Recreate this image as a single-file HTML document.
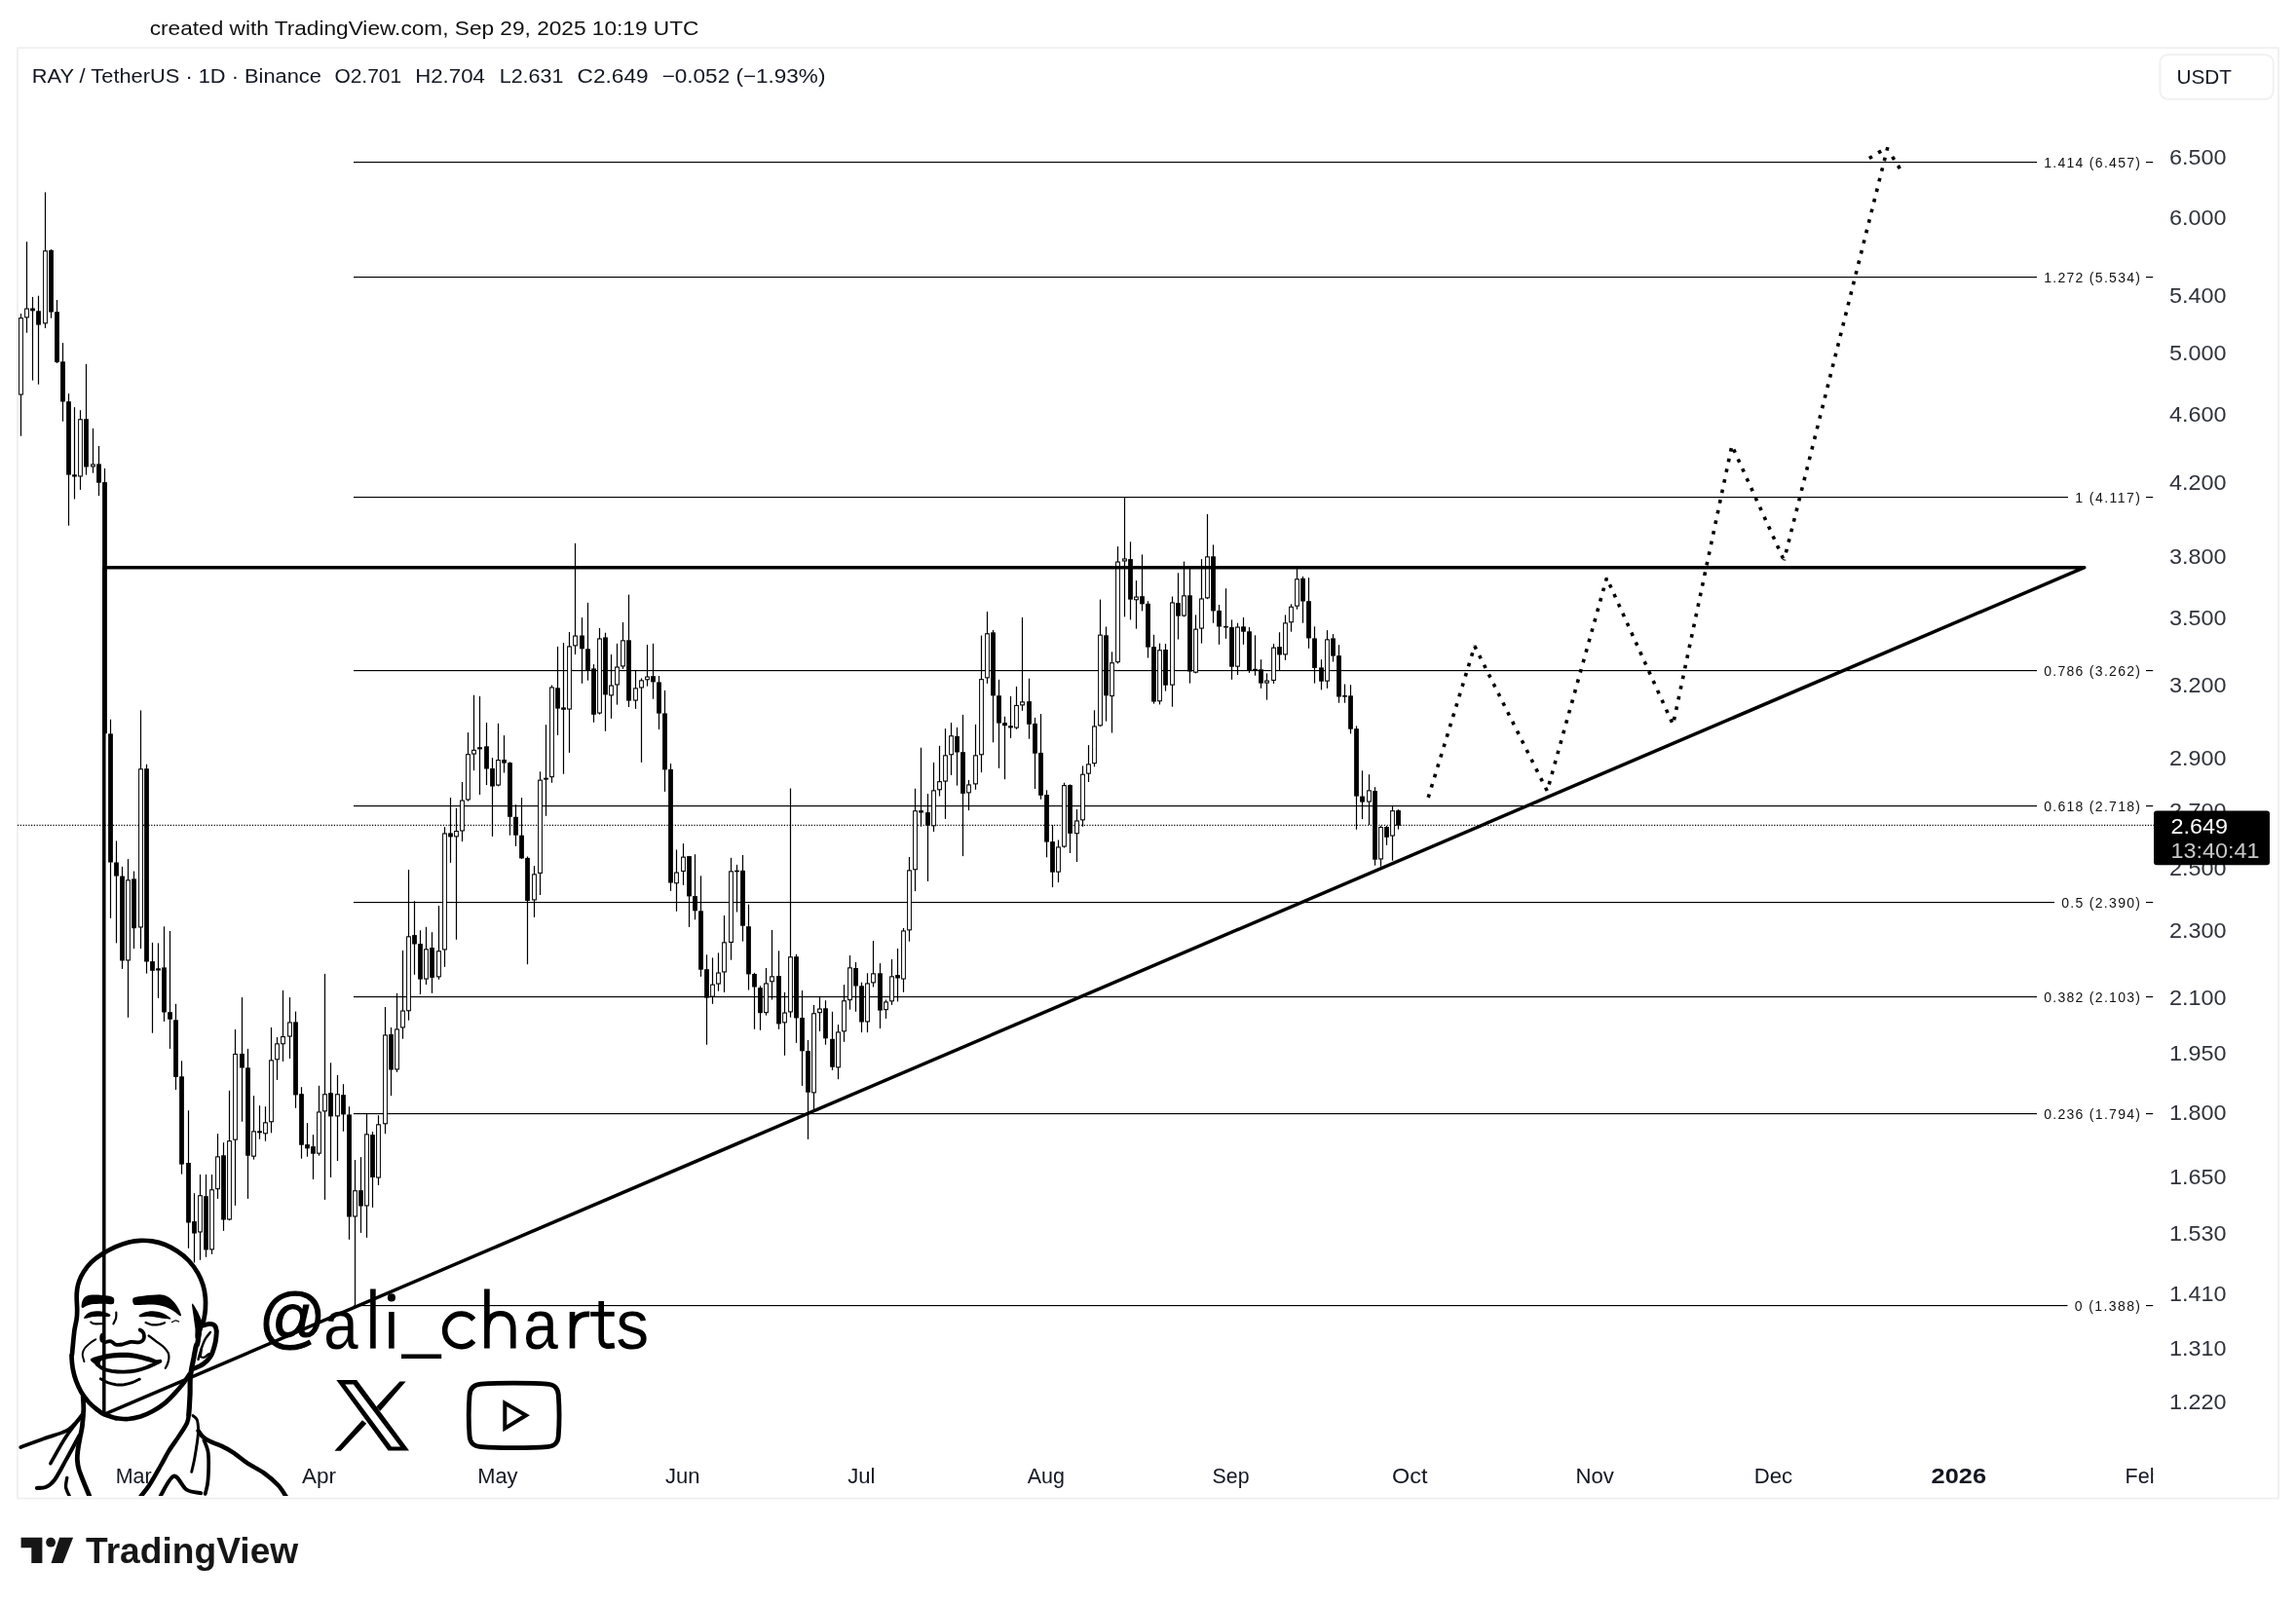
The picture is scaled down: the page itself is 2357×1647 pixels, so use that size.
<!DOCTYPE html>
<html><head><meta charset="utf-8"><title>RAY / TetherUS chart</title>
<style>html,body{margin:0;padding:0;background:#fff;}body{width:2357px;height:1647px;overflow:hidden;}svg{display:block;font-family:"Liberation Sans", sans-serif;will-change:transform;}</style>
</head><body>
<svg width="2357" height="1647" viewBox="0 0 2357 1647">
<rect width="2357" height="1647" fill="#fff"/>
<rect x="18" y="49.2" width="2321" height="1489.4" fill="none" stroke="#efefef" stroke-width="1.8"/>
<rect x="2217.4" y="56.2" width="116.3" height="45.6" rx="8" fill="#fff" stroke="#f1f1f1" stroke-width="2"/>
<text x="2234.5" y="85.7" font-size="21" fill="#131722" textLength="56.5" lengthAdjust="spacingAndGlyphs">USDT</text>
<text x="153.7" y="35.5" font-size="20.7" fill="#111" textLength="563.7" lengthAdjust="spacingAndGlyphs">created with TradingView.com, Sep 29, 2025 10:19 UTC</text>
<text x="32.7" y="84.5" font-size="20" fill="#131722" textLength="297.2" lengthAdjust="spacingAndGlyphs">RAY / TetherUS · 1D · Binance</text>
<text x="343.4" y="84.5" font-size="20" fill="#131722" textLength="68.8" lengthAdjust="spacingAndGlyphs">O2.701</text>
<text x="426.2" y="84.5" font-size="20" fill="#131722" textLength="71.7" lengthAdjust="spacingAndGlyphs">H2.704</text>
<text x="512.7" y="84.5" font-size="20" fill="#131722" textLength="65.8" lengthAdjust="spacingAndGlyphs">L2.631</text>
<text x="592.6" y="84.5" font-size="20" fill="#131722" textLength="73.0" lengthAdjust="spacingAndGlyphs">C2.649</text>
<text x="679.7" y="84.5" font-size="20" fill="#131722" textLength="167.7" lengthAdjust="spacingAndGlyphs">−0.052 (−1.93%)</text>
<rect x="363" y="166" width="1728.0" height="1.15" fill="#000"/>
<rect x="2203" y="166" width="7.2" height="1.15" fill="#000"/>
<text x="2098.2" y="171.7" font-size="14" fill="#111" textLength="98.8" lengthAdjust="spacing">1.414 (6.457)</text>
<rect x="363" y="284" width="1728.0" height="1.15" fill="#000"/>
<rect x="2203" y="284" width="7.2" height="1.15" fill="#000"/>
<text x="2098.2" y="290.3" font-size="14" fill="#111" textLength="98.8" lengthAdjust="spacing">1.272 (5.534)</text>
<rect x="363" y="510" width="1760.0" height="1.15" fill="#000"/>
<rect x="2203" y="510" width="7.2" height="1.15" fill="#000"/>
<text x="2130.2" y="515.7" font-size="14" fill="#111" textLength="66.8" lengthAdjust="spacing">1 (4.117)</text>
<rect x="363" y="688" width="1728.0" height="1.15" fill="#000"/>
<rect x="2203" y="688" width="7.2" height="1.15" fill="#000"/>
<text x="2098.2" y="693.7" font-size="14" fill="#111" textLength="98.8" lengthAdjust="spacing">0.786 (3.262)</text>
<rect x="363" y="827" width="1728.0" height="1.15" fill="#000"/>
<rect x="2203" y="827" width="7.2" height="1.15" fill="#000"/>
<text x="2098.2" y="832.6" font-size="14" fill="#111" textLength="98.8" lengthAdjust="spacing">0.618 (2.718)</text>
<rect x="363" y="926" width="1746.0" height="1.15" fill="#000"/>
<rect x="2203" y="926" width="7.2" height="1.15" fill="#000"/>
<text x="2116.2" y="931.7" font-size="14" fill="#111" textLength="80.8" lengthAdjust="spacing">0.5 (2.390)</text>
<rect x="363" y="1023" width="1728.0" height="1.15" fill="#000"/>
<rect x="2203" y="1023" width="7.2" height="1.15" fill="#000"/>
<text x="2098.2" y="1028.6" font-size="14" fill="#111" textLength="98.8" lengthAdjust="spacing">0.382 (2.103)</text>
<rect x="363" y="1143" width="1728.0" height="1.15" fill="#000"/>
<rect x="2203" y="1143" width="7.2" height="1.15" fill="#000"/>
<text x="2098.2" y="1148.6" font-size="14" fill="#111" textLength="98.8" lengthAdjust="spacing">0.236 (1.794)</text>
<rect x="363" y="1340" width="1759.5" height="1.15" fill="#000"/>
<rect x="2203" y="1340" width="7.2" height="1.15" fill="#000"/>
<text x="2129.7" y="1345.6" font-size="14" fill="#111" textLength="67.3" lengthAdjust="spacing">0 (1.388)</text>
<line x1="18" y1="847.3" x2="2211" y2="847.3" stroke="#000" stroke-width="1.2" stroke-dasharray="1.2 1.6"/>
<g fill="#000"><rect x="20.90" y="322.1" width="1.2" height="125.6"/><rect x="19.10" y="326.1" width="4.8" height="79.5"/><rect x="20.10" y="327.2" width="2.8" height="77.3" fill="#fff"/><rect x="26.90" y="248.2" width="1.2" height="93.5"/><rect x="25.10" y="316.5" width="4.8" height="9.9"/><rect x="26.10" y="317.6" width="2.8" height="7.7" fill="#fff"/><rect x="32.90" y="304.9" width="1.2" height="85.7"/><rect x="31.10" y="316.5" width="4.8" height="2.8"/><rect x="38.90" y="303.7" width="1.2" height="91.0"/><rect x="37.10" y="319.3" width="4.8" height="14.3"/><rect x="45.90" y="197.4" width="1.2" height="139.6"/><rect x="44.10" y="257.2" width="4.8" height="75.2"/><rect x="45.10" y="258.3" width="2.8" height="73.0" fill="#fff"/><rect x="51.90" y="256.0" width="1.2" height="70.7"/><rect x="50.10" y="256.9" width="4.8" height="63.6"/><rect x="57.90" y="308.0" width="1.2" height="64.9"/><rect x="56.10" y="320.2" width="4.8" height="51.7"/><rect x="63.90" y="352.0" width="1.2" height="80.7"/><rect x="62.10" y="371.3" width="4.8" height="41.2"/><rect x="69.90" y="404.1" width="1.2" height="135.6"/><rect x="68.10" y="412.2" width="4.8" height="75.4"/><rect x="75.90" y="418.1" width="1.2" height="94.4"/><rect x="74.10" y="487.3" width="4.8" height="2.2"/><rect x="81.90" y="421.2" width="1.2" height="81.7"/><rect x="80.10" y="430.2" width="4.8" height="59.3"/><rect x="81.10" y="431.3" width="2.8" height="57.1" fill="#fff"/><rect x="87.90" y="373.8" width="1.2" height="113.8"/><rect x="86.10" y="430.2" width="4.8" height="49.3"/><rect x="94.90" y="439.9" width="1.2" height="45.8"/><rect x="93.10" y="476.4" width="4.8" height="3.1"/><rect x="94.10" y="477.5" width="2.8" height="0.9" fill="#fff"/><rect x="100.90" y="458.0" width="1.2" height="51.1"/><rect x="99.10" y="476.4" width="4.8" height="19.3"/><rect x="106.90" y="481.0" width="1.2" height="280.0"/><rect x="105.10" y="495.1" width="4.8" height="258.1"/><rect x="112.90" y="738.7" width="1.2" height="204.2"/><rect x="111.10" y="753.4" width="4.8" height="132.1"/><rect x="118.90" y="863.4" width="1.2" height="105.0"/><rect x="117.10" y="885.5" width="4.8" height="14.1"/><rect x="124.90" y="889.9" width="1.2" height="105.0"/><rect x="123.10" y="899.6" width="4.8" height="86.9"/><rect x="130.90" y="882.1" width="1.2" height="162.7"/><rect x="129.10" y="903.3" width="4.8" height="83.2"/><rect x="130.10" y="904.4" width="2.8" height="81.0" fill="#fff"/><rect x="136.90" y="894.6" width="1.2" height="79.5"/><rect x="135.10" y="902.4" width="4.8" height="50.8"/><rect x="143.90" y="729.4" width="1.2" height="244.7"/><rect x="142.10" y="789.2" width="4.8" height="163.3"/><rect x="143.10" y="790.3" width="2.8" height="161.1" fill="#fff"/><rect x="149.90" y="784.8" width="1.2" height="214.8"/><rect x="148.10" y="789.2" width="4.8" height="198.3"/><rect x="155.90" y="967.8" width="1.2" height="92.9"/><rect x="154.10" y="987.1" width="4.8" height="9.7"/><rect x="161.90" y="968.4" width="1.2" height="56.5"/><rect x="160.10" y="994.3" width="4.8" height="2.2"/><rect x="167.90" y="951.3" width="1.2" height="97.6"/><rect x="166.10" y="993.4" width="4.8" height="46.1"/><rect x="173.90" y="956.0" width="1.2" height="120.9"/><rect x="172.10" y="1039.2" width="4.8" height="7.5"/><rect x="179.90" y="1030.8" width="1.2" height="88.2"/><rect x="178.10" y="1047.3" width="4.8" height="58.6"/><rect x="185.90" y="1089.3" width="1.2" height="116.3"/><rect x="184.10" y="1105.3" width="4.8" height="90.3"/><rect x="192.90" y="1140.2" width="1.2" height="141.6"/><rect x="191.10" y="1194.0" width="4.8" height="61.5"/><rect x="198.90" y="1225.2" width="1.2" height="71.2"/><rect x="197.10" y="1254.1" width="4.8" height="12.4"/><rect x="204.90" y="1206.0" width="1.2" height="87.8"/><rect x="203.10" y="1227.2" width="4.8" height="38.3"/><rect x="204.10" y="1228.3" width="2.8" height="36.1" fill="#fff"/><rect x="210.90" y="1206.0" width="1.2" height="84.8"/><rect x="209.10" y="1228.2" width="4.8" height="55.2"/><rect x="216.90" y="1206.0" width="1.2" height="81.8"/><rect x="215.10" y="1221.2" width="4.8" height="62.2"/><rect x="216.10" y="1222.3" width="2.8" height="60.0" fill="#fff"/><rect x="222.90" y="1164.1" width="1.2" height="66.8"/><rect x="221.10" y="1187.3" width="4.8" height="33.9"/><rect x="222.10" y="1188.4" width="2.8" height="31.7" fill="#fff"/><rect x="228.90" y="1173.1" width="1.2" height="90.8"/><rect x="227.10" y="1186.3" width="4.8" height="66.2"/><rect x="234.90" y="1119.8" width="1.2" height="133.3"/><rect x="233.10" y="1171.1" width="4.8" height="81.4"/><rect x="234.10" y="1172.2" width="2.8" height="79.2" fill="#fff"/><rect x="240.90" y="1057.0" width="1.2" height="180.9"/><rect x="239.10" y="1081.9" width="4.8" height="88.8"/><rect x="240.10" y="1083.0" width="2.8" height="86.6" fill="#fff"/><rect x="247.90" y="1024.1" width="1.2" height="127.6"/><rect x="246.10" y="1081.9" width="4.8" height="14.6"/><rect x="253.90" y="1076.9" width="1.2" height="154.0"/><rect x="252.10" y="1096.3" width="4.8" height="90.4"/><rect x="259.90" y="1125.2" width="1.2" height="65.4"/><rect x="258.10" y="1161.3" width="4.8" height="26.4"/><rect x="259.10" y="1162.4" width="2.8" height="24.2" fill="#fff"/><rect x="265.90" y="1135.2" width="1.2" height="34.5"/><rect x="264.10" y="1161.3" width="4.8" height="2.0"/><rect x="271.90" y="1136.2" width="1.2" height="35.5"/><rect x="270.10" y="1152.3" width="4.8" height="12.0"/><rect x="271.10" y="1153.4" width="2.8" height="9.8" fill="#fff"/><rect x="277.90" y="1055.0" width="1.2" height="108.3"/><rect x="276.10" y="1088.3" width="4.8" height="64.0"/><rect x="277.10" y="1089.4" width="2.8" height="61.8" fill="#fff"/><rect x="283.90" y="1065.0" width="1.2" height="43.9"/><rect x="282.10" y="1071.3" width="4.8" height="17.0"/><rect x="283.10" y="1072.4" width="2.8" height="14.8" fill="#fff"/><rect x="289.90" y="1016.9" width="1.2" height="73.0"/><rect x="288.10" y="1064.0" width="4.8" height="8.3"/><rect x="289.10" y="1065.1" width="2.8" height="6.1" fill="#fff"/><rect x="296.90" y="1024.1" width="1.2" height="62.8"/><rect x="295.10" y="1049.4" width="4.8" height="15.2"/><rect x="296.10" y="1050.5" width="2.8" height="13.0" fill="#fff"/><rect x="302.90" y="1038.6" width="1.2" height="99.2"/><rect x="301.10" y="1049.4" width="4.8" height="75.0"/><rect x="308.90" y="1116.2" width="1.2" height="73.5"/><rect x="307.10" y="1123.2" width="4.8" height="52.5"/><rect x="314.90" y="1153.1" width="1.2" height="34.6"/><rect x="313.10" y="1175.1" width="4.8" height="4.2"/><rect x="320.90" y="1165.1" width="1.2" height="45.9"/><rect x="319.10" y="1177.1" width="4.8" height="7.6"/><rect x="326.90" y="1114.8" width="1.2" height="71.9"/><rect x="325.10" y="1141.4" width="4.8" height="43.3"/><rect x="326.10" y="1142.5" width="2.8" height="41.1" fill="#fff"/><rect x="332.90" y="999.9" width="1.2" height="232.0"/><rect x="331.10" y="1123.2" width="4.8" height="18.2"/><rect x="332.10" y="1124.3" width="2.8" height="16.0" fill="#fff"/><rect x="338.90" y="1091.3" width="1.2" height="117.7"/><rect x="337.10" y="1122.2" width="4.8" height="24.2"/><rect x="345.90" y="1103.9" width="1.2" height="88.1"/><rect x="344.10" y="1123.2" width="4.8" height="23.2"/><rect x="345.10" y="1124.3" width="2.8" height="21.0" fill="#fff"/><rect x="351.90" y="1113.2" width="1.2" height="48.5"/><rect x="350.10" y="1124.2" width="4.8" height="20.2"/><rect x="357.90" y="1136.2" width="1.2" height="136.6"/><rect x="356.10" y="1144.4" width="4.8" height="105.1"/><rect x="363.90" y="1191.0" width="1.2" height="149.3"/><rect x="362.10" y="1222.2" width="4.8" height="27.3"/><rect x="363.10" y="1223.3" width="2.8" height="25.1" fill="#fff"/><rect x="369.90" y="1188.1" width="1.2" height="77.8"/><rect x="368.10" y="1222.2" width="4.8" height="16.3"/><rect x="375.90" y="1143.8" width="1.2" height="127.0"/><rect x="374.10" y="1164.3" width="4.8" height="74.2"/><rect x="375.10" y="1165.4" width="2.8" height="72.0" fill="#fff"/><rect x="381.90" y="1162.1" width="1.2" height="77.8"/><rect x="380.10" y="1165.1" width="4.8" height="43.9"/><rect x="387.90" y="1145.2" width="1.2" height="71.8"/><rect x="386.10" y="1154.3" width="4.8" height="55.3"/><rect x="387.10" y="1155.4" width="2.8" height="53.1" fill="#fff"/><rect x="394.90" y="1034.0" width="1.2" height="130.1"/><rect x="393.10" y="1062.4" width="4.8" height="91.9"/><rect x="394.10" y="1063.5" width="2.8" height="89.7" fill="#fff"/><rect x="400.90" y="1055.0" width="1.2" height="70.2"/><rect x="399.10" y="1062.0" width="4.8" height="36.5"/><rect x="406.90" y="1019.9" width="1.2" height="81.0"/><rect x="405.10" y="1056.4" width="4.8" height="42.1"/><rect x="406.10" y="1057.5" width="2.8" height="39.9" fill="#fff"/><rect x="412.90" y="975.9" width="1.2" height="90.8"/><rect x="411.10" y="1037.5" width="4.8" height="18.0"/><rect x="412.10" y="1038.6" width="2.8" height="15.8" fill="#fff"/><rect x="418.90" y="893.0" width="1.2" height="154.7"/><rect x="417.10" y="961.3" width="4.8" height="77.0"/><rect x="418.10" y="962.4" width="2.8" height="74.8" fill="#fff"/><rect x="424.90" y="925.2" width="1.2" height="75.6"/><rect x="423.10" y="960.1" width="4.8" height="9.4"/><rect x="430.90" y="955.3" width="1.2" height="65.7"/><rect x="429.10" y="969.1" width="4.8" height="36.5"/><rect x="436.90" y="951.8" width="1.2" height="59.2"/><rect x="435.10" y="974.3" width="4.8" height="31.3"/><rect x="436.10" y="975.4" width="2.8" height="29.1" fill="#fff"/><rect x="442.90" y="957.2" width="1.2" height="62.6"/><rect x="441.10" y="973.1" width="4.8" height="30.8"/><rect x="449.90" y="930.0" width="1.2" height="75.8"/><rect x="448.10" y="976.2" width="4.8" height="27.2"/><rect x="449.10" y="977.3" width="2.8" height="25.0" fill="#fff"/><rect x="455.90" y="849.2" width="1.2" height="143.6"/><rect x="454.10" y="855.4" width="4.8" height="120.1"/><rect x="455.10" y="856.5" width="2.8" height="117.9" fill="#fff"/><rect x="461.90" y="819.1" width="1.2" height="66.8"/><rect x="460.10" y="855.4" width="4.8" height="4.0"/><rect x="467.90" y="829.8" width="1.2" height="135.0"/><rect x="466.10" y="853.0" width="4.8" height="6.4"/><rect x="467.10" y="854.1" width="2.8" height="4.2" fill="#fff"/><rect x="473.90" y="803.0" width="1.2" height="61.1"/><rect x="472.10" y="821.5" width="4.8" height="32.0"/><rect x="473.10" y="822.6" width="2.8" height="29.8" fill="#fff"/><rect x="479.90" y="752.1" width="1.2" height="70.6"/><rect x="478.10" y="774.1" width="4.8" height="47.4"/><rect x="479.10" y="775.2" width="2.8" height="45.2" fill="#fff"/><rect x="485.90" y="713.7" width="1.2" height="77.5"/><rect x="484.10" y="769.8" width="4.8" height="4.8"/><rect x="485.10" y="770.9" width="2.8" height="2.6" fill="#fff"/><rect x="491.90" y="714.9" width="1.2" height="101.1"/><rect x="490.10" y="767.2" width="4.8" height="2.2"/><rect x="498.90" y="742.1" width="1.2" height="64.0"/><rect x="497.10" y="766.3" width="4.8" height="23.2"/><rect x="504.90" y="778.1" width="1.2" height="80.8"/><rect x="503.10" y="789.0" width="4.8" height="18.5"/><rect x="510.90" y="742.8" width="1.2" height="64.5"/><rect x="509.10" y="780.0" width="4.8" height="26.6"/><rect x="510.10" y="781.1" width="2.8" height="24.4" fill="#fff"/><rect x="516.90" y="755.1" width="1.2" height="38.4"/><rect x="515.10" y="780.0" width="4.8" height="3.6"/><rect x="522.90" y="782.4" width="1.2" height="75.3"/><rect x="521.10" y="783.1" width="4.8" height="55.7"/><rect x="528.90" y="826.2" width="1.2" height="42.7"/><rect x="527.10" y="838.8" width="4.8" height="18.9"/><rect x="534.90" y="819.1" width="1.2" height="62.8"/><rect x="533.10" y="857.7" width="4.8" height="23.7"/><rect x="540.90" y="879.5" width="1.2" height="110.7"/><rect x="539.10" y="880.9" width="4.8" height="44.1"/><rect x="547.90" y="889.0" width="1.2" height="52.8"/><rect x="546.10" y="897.3" width="4.8" height="27.2"/><rect x="547.10" y="898.4" width="2.8" height="25.0" fill="#fff"/><rect x="553.90" y="792.3" width="1.2" height="126.7"/><rect x="552.10" y="800.6" width="4.8" height="96.4"/><rect x="553.10" y="801.7" width="2.8" height="94.2" fill="#fff"/><rect x="559.90" y="744.2" width="1.2" height="93.6"/><rect x="558.10" y="798.7" width="4.8" height="1.9"/><rect x="565.90" y="703.5" width="1.2" height="100.2"/><rect x="564.10" y="705.4" width="4.8" height="92.8"/><rect x="565.10" y="706.5" width="2.8" height="90.6" fill="#fff"/><rect x="571.90" y="663.9" width="1.2" height="91.0"/><rect x="570.10" y="706.3" width="4.8" height="21.3"/><rect x="577.90" y="660.1" width="1.2" height="134.6"/><rect x="576.10" y="726.4" width="4.8" height="2.4"/><rect x="583.90" y="649.0" width="1.2" height="123.9"/><rect x="582.10" y="663.4" width="4.8" height="65.2"/><rect x="583.10" y="664.5" width="2.8" height="63.0" fill="#fff"/><rect x="589.90" y="557.8" width="1.2" height="114.2"/><rect x="588.10" y="652.5" width="4.8" height="10.9"/><rect x="589.10" y="653.6" width="2.8" height="8.7" fill="#fff"/><rect x="596.90" y="634.1" width="1.2" height="67.7"/><rect x="595.10" y="652.5" width="4.8" height="13.8"/><rect x="602.90" y="618.9" width="1.2" height="79.8"/><rect x="601.10" y="666.3" width="4.8" height="22.2"/><rect x="608.90" y="682.1" width="1.2" height="59.7"/><rect x="607.10" y="686.4" width="4.8" height="47.4"/><rect x="614.90" y="644.9" width="1.2" height="88.7"/><rect x="613.10" y="655.4" width="4.8" height="77.2"/><rect x="614.10" y="656.5" width="2.8" height="75.0" fill="#fff"/><rect x="620.90" y="649.7" width="1.2" height="101.1"/><rect x="619.10" y="654.4" width="4.8" height="59.0"/><rect x="626.90" y="672.0" width="1.2" height="65.8"/><rect x="625.10" y="703.5" width="4.8" height="10.9"/><rect x="626.10" y="704.6" width="2.8" height="8.7" fill="#fff"/><rect x="632.90" y="660.8" width="1.2" height="62.8"/><rect x="631.10" y="684.5" width="4.8" height="19.0"/><rect x="632.10" y="685.6" width="2.8" height="16.8" fill="#fff"/><rect x="638.90" y="639.0" width="1.2" height="47.9"/><rect x="637.10" y="657.3" width="4.8" height="27.2"/><rect x="638.10" y="658.4" width="2.8" height="25.0" fill="#fff"/><rect x="644.90" y="610.6" width="1.2" height="115.4"/><rect x="643.10" y="657.3" width="4.8" height="62.3"/><rect x="651.90" y="688.5" width="1.2" height="39.4"/><rect x="650.10" y="706.3" width="4.8" height="13.3"/><rect x="651.10" y="707.4" width="2.8" height="11.1" fill="#fff"/><rect x="657.90" y="696.4" width="1.2" height="86.4"/><rect x="656.10" y="698.3" width="4.8" height="8.2"/><rect x="657.10" y="699.4" width="2.8" height="6.0" fill="#fff"/><rect x="663.90" y="662.0" width="1.2" height="42.6"/><rect x="662.10" y="694.5" width="4.8" height="3.8"/><rect x="663.10" y="695.6" width="2.8" height="1.6" fill="#fff"/><rect x="669.90" y="660.8" width="1.2" height="56.9"/><rect x="668.10" y="694.2" width="4.8" height="6.2"/><rect x="675.90" y="694.0" width="1.2" height="55.0"/><rect x="674.10" y="700.4" width="4.8" height="32.2"/><rect x="681.90" y="708.9" width="1.2" height="104.0"/><rect x="680.10" y="732.4" width="4.8" height="58.0"/><rect x="687.90" y="784.0" width="1.2" height="130.8"/><rect x="686.10" y="789.9" width="4.8" height="116.6"/><rect x="693.90" y="872.5" width="1.2" height="63.3"/><rect x="692.10" y="895.5" width="4.8" height="11.8"/><rect x="693.10" y="896.6" width="2.8" height="9.6" fill="#fff"/><rect x="700.90" y="866.1" width="1.2" height="42.7"/><rect x="699.10" y="879.6" width="4.8" height="15.4"/><rect x="700.10" y="880.7" width="2.8" height="13.2" fill="#fff"/><rect x="706.90" y="878.9" width="1.2" height="73.0"/><rect x="705.10" y="879.1" width="4.8" height="41.3"/><rect x="712.90" y="877.2" width="1.2" height="67.1"/><rect x="711.10" y="920.1" width="4.8" height="15.2"/><rect x="718.90" y="899.3" width="1.2" height="103.5"/><rect x="717.10" y="935.3" width="4.8" height="60.4"/><rect x="724.90" y="980.3" width="1.2" height="92.4"/><rect x="723.10" y="995.2" width="4.8" height="29.4"/><rect x="730.90" y="983.4" width="1.2" height="47.4"/><rect x="729.10" y="1010.6" width="4.8" height="13.1"/><rect x="730.10" y="1011.7" width="2.8" height="10.9" fill="#fff"/><rect x="736.90" y="978.4" width="1.2" height="39.3"/><rect x="735.10" y="998.5" width="4.8" height="12.1"/><rect x="736.10" y="999.6" width="2.8" height="9.9" fill="#fff"/><rect x="742.90" y="940.0" width="1.2" height="78.9"/><rect x="741.10" y="967.3" width="4.8" height="31.2"/><rect x="742.10" y="968.4" width="2.8" height="29.0" fill="#fff"/><rect x="749.90" y="880.8" width="1.2" height="104.9"/><rect x="748.10" y="894.3" width="4.8" height="73.7"/><rect x="749.10" y="895.4" width="2.8" height="71.5" fill="#fff"/><rect x="755.90" y="887.9" width="1.2" height="48.6"/><rect x="754.10" y="893.7" width="4.8" height="1.6"/><rect x="761.90" y="878.0" width="1.2" height="88.6"/><rect x="760.10" y="893.8" width="4.8" height="56.9"/><rect x="767.90" y="928.7" width="1.2" height="87.8"/><rect x="766.10" y="951.2" width="4.8" height="49.2"/><rect x="773.90" y="998.8" width="1.2" height="58.0"/><rect x="772.10" y="1000.0" width="4.8" height="13.5"/><rect x="779.90" y="1012.3" width="1.2" height="45.5"/><rect x="778.10" y="1014.2" width="4.8" height="26.0"/><rect x="785.90" y="994.0" width="1.2" height="48.6"/><rect x="784.10" y="1009.4" width="4.8" height="30.8"/><rect x="785.10" y="1010.5" width="2.8" height="28.6" fill="#fff"/><rect x="791.90" y="954.9" width="1.2" height="71.6"/><rect x="790.10" y="1002.3" width="4.8" height="6.0"/><rect x="791.10" y="1003.4" width="2.8" height="3.8" fill="#fff"/><rect x="798.90" y="976.3" width="1.2" height="80.5"/><rect x="797.10" y="1002.1" width="4.8" height="49.3"/><rect x="804.90" y="1018.9" width="1.2" height="64.9"/><rect x="803.10" y="1039.5" width="4.8" height="10.9"/><rect x="804.10" y="1040.6" width="2.8" height="8.7" fill="#fff"/><rect x="810.90" y="809.5" width="1.2" height="235.2"/><rect x="809.10" y="982.2" width="4.8" height="57.3"/><rect x="810.10" y="983.3" width="2.8" height="55.1" fill="#fff"/><rect x="816.90" y="979.8" width="1.2" height="91.0"/><rect x="815.10" y="982.2" width="4.8" height="63.2"/><rect x="822.90" y="1017.0" width="1.2" height="97.9"/><rect x="821.10" y="1045.0" width="4.8" height="34.3"/><rect x="828.90" y="1068.0" width="1.2" height="101.8"/><rect x="827.10" y="1079.1" width="4.8" height="42.6"/><rect x="834.90" y="1031.9" width="1.2" height="109.0"/><rect x="833.10" y="1040.2" width="4.8" height="82.2"/><rect x="834.10" y="1041.3" width="2.8" height="80.0" fill="#fff"/><rect x="840.90" y="1023.7" width="1.2" height="35.3"/><rect x="839.10" y="1035.5" width="4.8" height="4.7"/><rect x="840.10" y="1036.6" width="2.8" height="2.5" fill="#fff"/><rect x="846.90" y="1027.2" width="1.2" height="45.5"/><rect x="845.10" y="1035.3" width="4.8" height="31.0"/><rect x="853.90" y="1038.8" width="1.2" height="60.0"/><rect x="852.10" y="1066.8" width="4.8" height="28.9"/><rect x="859.90" y="1052.1" width="1.2" height="56.1"/><rect x="858.10" y="1059.4" width="4.8" height="37.0"/><rect x="859.10" y="1060.5" width="2.8" height="34.8" fill="#fff"/><rect x="865.90" y="1011.1" width="1.2" height="58.7"/><rect x="864.10" y="1027.2" width="4.8" height="32.2"/><rect x="865.10" y="1028.3" width="2.8" height="30.0" fill="#fff"/><rect x="871.90" y="981.0" width="1.2" height="55.7"/><rect x="870.10" y="993.3" width="4.8" height="33.9"/><rect x="871.10" y="994.4" width="2.8" height="31.7" fill="#fff"/><rect x="877.90" y="987.9" width="1.2" height="50.9"/><rect x="876.10" y="994.0" width="4.8" height="18.5"/><rect x="883.90" y="1008.7" width="1.2" height="51.4"/><rect x="882.10" y="1012.3" width="4.8" height="37.2"/><rect x="889.90" y="999.3" width="1.2" height="60.8"/><rect x="888.10" y="1009.4" width="4.8" height="40.1"/><rect x="889.10" y="1010.5" width="2.8" height="37.9" fill="#fff"/><rect x="895.90" y="966.1" width="1.2" height="47.4"/><rect x="894.10" y="999.3" width="4.8" height="10.1"/><rect x="895.10" y="1000.4" width="2.8" height="7.9" fill="#fff"/><rect x="902.90" y="989.1" width="1.2" height="67.0"/><rect x="901.10" y="999.3" width="4.8" height="38.3"/><rect x="908.90" y="1026.5" width="1.2" height="19.4"/><rect x="907.10" y="1028.4" width="4.8" height="8.8"/><rect x="908.10" y="1029.5" width="2.8" height="6.6" fill="#fff"/><rect x="914.90" y="985.0" width="1.2" height="46.9"/><rect x="913.10" y="1002.3" width="4.8" height="26.1"/><rect x="914.10" y="1003.4" width="2.8" height="23.9" fill="#fff"/><rect x="920.90" y="973.9" width="1.2" height="54.5"/><rect x="919.10" y="1001.1" width="4.8" height="3.4"/><rect x="926.90" y="953.0" width="1.2" height="65.8"/><rect x="925.10" y="955.4" width="4.8" height="50.2"/><rect x="926.10" y="956.5" width="2.8" height="48.0" fill="#fff"/><rect x="932.90" y="880.0" width="1.2" height="86.7"/><rect x="931.10" y="893.3" width="4.8" height="62.1"/><rect x="932.10" y="894.4" width="2.8" height="59.9" fill="#fff"/><rect x="938.90" y="809.7" width="1.2" height="105.4"/><rect x="937.10" y="832.2" width="4.8" height="61.1"/><rect x="938.10" y="833.3" width="2.8" height="58.9" fill="#fff"/><rect x="944.90" y="767.7" width="1.2" height="81.1"/><rect x="943.10" y="832.2" width="4.8" height="2.3"/><rect x="951.90" y="815.1" width="1.2" height="89.8"/><rect x="950.10" y="834.1" width="4.8" height="13.5"/><rect x="957.90" y="782.9" width="1.2" height="71.1"/><rect x="956.10" y="811.3" width="4.8" height="37.0"/><rect x="957.10" y="812.4" width="2.8" height="34.8" fill="#fff"/><rect x="963.90" y="765.8" width="1.2" height="51.7"/><rect x="962.10" y="802.1" width="4.8" height="9.2"/><rect x="963.10" y="803.2" width="2.8" height="7.0" fill="#fff"/><rect x="969.90" y="748.1" width="1.2" height="92.8"/><rect x="968.10" y="775.3" width="4.8" height="27.3"/><rect x="969.10" y="776.4" width="2.8" height="25.1" fill="#fff"/><rect x="975.90" y="742.1" width="1.2" height="53.8"/><rect x="974.10" y="755.2" width="4.8" height="20.1"/><rect x="975.10" y="756.3" width="2.8" height="17.9" fill="#fff"/><rect x="981.90" y="746.9" width="1.2" height="59.7"/><rect x="980.10" y="755.9" width="4.8" height="16.6"/><rect x="987.90" y="733.9" width="1.2" height="145.2"/><rect x="986.10" y="772.2" width="4.8" height="42.7"/><rect x="993.90" y="800.9" width="1.2" height="31.3"/><rect x="992.10" y="805.4" width="4.8" height="9.0"/><rect x="993.10" y="806.5" width="2.8" height="6.8" fill="#fff"/><rect x="1000.90" y="743.8" width="1.2" height="67.0"/><rect x="999.10" y="775.3" width="4.8" height="30.1"/><rect x="1000.10" y="776.4" width="2.8" height="27.9" fill="#fff"/><rect x="1006.90" y="652.6" width="1.2" height="140.5"/><rect x="1005.10" y="697.1" width="4.8" height="78.2"/><rect x="1006.10" y="698.2" width="2.8" height="76.0" fill="#fff"/><rect x="1012.90" y="628.0" width="1.2" height="73.9"/><rect x="1011.10" y="650.2" width="4.8" height="46.2"/><rect x="1012.10" y="651.3" width="2.8" height="44.0" fill="#fff"/><rect x="1018.90" y="646.9" width="1.2" height="115.4"/><rect x="1017.10" y="649.3" width="4.8" height="65.1"/><rect x="1024.90" y="697.8" width="1.2" height="91.0"/><rect x="1023.10" y="714.2" width="4.8" height="28.4"/><rect x="1030.90" y="735.7" width="1.2" height="64.5"/><rect x="1029.10" y="742.1" width="4.8" height="3.1"/><rect x="1036.90" y="714.9" width="1.2" height="43.1"/><rect x="1035.10" y="745.2" width="4.8" height="2.2"/><rect x="1042.90" y="704.9" width="1.2" height="43.9"/><rect x="1041.10" y="723.9" width="4.8" height="23.7"/><rect x="1042.10" y="725.0" width="2.8" height="21.5" fill="#fff"/><rect x="1048.90" y="633.9" width="1.2" height="95.9"/><rect x="1047.10" y="720.3" width="4.8" height="4.1"/><rect x="1048.10" y="721.4" width="2.8" height="1.9" fill="#fff"/><rect x="1055.90" y="696.7" width="1.2" height="62.0"/><rect x="1054.10" y="720.1" width="4.8" height="23.7"/><rect x="1061.90" y="736.9" width="1.2" height="73.2"/><rect x="1060.10" y="742.9" width="4.8" height="30.8"/><rect x="1067.90" y="733.1" width="1.2" height="87.7"/><rect x="1066.10" y="772.9" width="4.8" height="43.9"/><rect x="1073.90" y="811.3" width="1.2" height="69.0"/><rect x="1072.10" y="816.1" width="4.8" height="48.5"/><rect x="1079.90" y="847.1" width="1.2" height="64.0"/><rect x="1078.10" y="864.1" width="4.8" height="31.6"/><rect x="1085.90" y="862.5" width="1.2" height="43.6"/><rect x="1084.10" y="869.4" width="4.8" height="26.3"/><rect x="1085.10" y="870.5" width="2.8" height="24.1" fill="#fff"/><rect x="1091.90" y="803.7" width="1.2" height="66.8"/><rect x="1090.10" y="806.1" width="4.8" height="63.5"/><rect x="1091.10" y="807.2" width="2.8" height="61.3" fill="#fff"/><rect x="1097.90" y="805.4" width="1.2" height="70.6"/><rect x="1096.10" y="806.1" width="4.8" height="49.8"/><rect x="1104.90" y="831.0" width="1.2" height="54.0"/><rect x="1103.10" y="842.4" width="4.8" height="13.9"/><rect x="1104.10" y="843.5" width="2.8" height="11.7" fill="#fff"/><rect x="1110.90" y="786.4" width="1.2" height="62.4"/><rect x="1109.10" y="794.7" width="4.8" height="47.7"/><rect x="1110.10" y="795.8" width="2.8" height="45.5" fill="#fff"/><rect x="1116.90" y="765.1" width="1.2" height="37.9"/><rect x="1115.10" y="784.3" width="4.8" height="10.4"/><rect x="1116.10" y="785.4" width="2.8" height="8.2" fill="#fff"/><rect x="1122.90" y="729.3" width="1.2" height="58.0"/><rect x="1121.10" y="745.4" width="4.8" height="38.8"/><rect x="1122.10" y="746.5" width="2.8" height="36.6" fill="#fff"/><rect x="1128.90" y="615.6" width="1.2" height="130.3"/><rect x="1127.10" y="651.6" width="4.8" height="93.8"/><rect x="1128.10" y="652.7" width="2.8" height="91.6" fill="#fff"/><rect x="1134.90" y="643.5" width="1.2" height="97.1"/><rect x="1133.10" y="652.3" width="4.8" height="62.0"/><rect x="1140.90" y="669.3" width="1.2" height="83.2"/><rect x="1139.10" y="680.2" width="4.8" height="34.9"/><rect x="1140.10" y="681.3" width="2.8" height="32.7" fill="#fff"/><rect x="1146.90" y="561.1" width="1.2" height="120.3"/><rect x="1145.10" y="576.5" width="4.8" height="103.7"/><rect x="1146.10" y="577.6" width="2.8" height="101.5" fill="#fff"/><rect x="1153.90" y="510.8" width="1.2" height="122.5"/><rect x="1152.10" y="573.4" width="4.8" height="3.1"/><rect x="1153.10" y="574.5" width="2.8" height="0.9" fill="#fff"/><rect x="1159.90" y="556.3" width="1.2" height="80.1"/><rect x="1158.10" y="574.1" width="4.8" height="41.5"/><rect x="1165.90" y="596.1" width="1.2" height="49.5"/><rect x="1164.10" y="612.5" width="4.8" height="3.8"/><rect x="1165.10" y="613.6" width="2.8" height="1.6" fill="#fff"/><rect x="1171.90" y="569.4" width="1.2" height="58.0"/><rect x="1170.10" y="612.2" width="4.8" height="8.1"/><rect x="1177.90" y="617.2" width="1.2" height="58.3"/><rect x="1176.10" y="619.8" width="4.8" height="44.8"/><rect x="1183.90" y="651.8" width="1.2" height="70.8"/><rect x="1182.10" y="664.1" width="4.8" height="56.4"/><rect x="1189.90" y="660.6" width="1.2" height="62.8"/><rect x="1188.10" y="667.2" width="4.8" height="53.1"/><rect x="1189.10" y="668.3" width="2.8" height="50.9" fill="#fff"/><rect x="1195.90" y="661.0" width="1.2" height="48.6"/><rect x="1194.10" y="667.0" width="4.8" height="36.7"/><rect x="1202.90" y="612.5" width="1.2" height="113.2"/><rect x="1201.10" y="618.4" width="4.8" height="85.3"/><rect x="1202.10" y="619.5" width="2.8" height="83.1" fill="#fff"/><rect x="1208.90" y="588.3" width="1.2" height="68.2"/><rect x="1207.10" y="619.1" width="4.8" height="13.5"/><rect x="1214.90" y="576.5" width="1.2" height="56.8"/><rect x="1213.10" y="611.3" width="4.8" height="21.3"/><rect x="1214.10" y="612.4" width="2.8" height="19.1" fill="#fff"/><rect x="1220.90" y="583.6" width="1.2" height="118.0"/><rect x="1219.10" y="611.3" width="4.8" height="78.2"/><rect x="1226.90" y="631.4" width="1.2" height="60.0"/><rect x="1225.10" y="645.6" width="4.8" height="45.1"/><rect x="1226.10" y="646.7" width="2.8" height="42.9" fill="#fff"/><rect x="1232.90" y="574.1" width="1.2" height="86.5"/><rect x="1231.10" y="614.4" width="4.8" height="31.2"/><rect x="1232.10" y="615.5" width="2.8" height="29.0" fill="#fff"/><rect x="1238.90" y="527.9" width="1.2" height="87.2"/><rect x="1237.10" y="571.3" width="4.8" height="43.1"/><rect x="1238.10" y="572.4" width="2.8" height="40.9" fill="#fff"/><rect x="1244.90" y="559.4" width="1.2" height="80.3"/><rect x="1243.10" y="571.3" width="4.8" height="56.1"/><rect x="1250.90" y="621.0" width="1.2" height="40.8"/><rect x="1249.10" y="626.9" width="4.8" height="16.6"/><rect x="1257.90" y="604.2" width="1.2" height="51.6"/><rect x="1256.10" y="642.9" width="4.8" height="1.6"/><rect x="1263.90" y="636.4" width="1.2" height="61.4"/><rect x="1262.10" y="644.0" width="4.8" height="40.7"/><rect x="1269.90" y="639.7" width="1.2" height="53.3"/><rect x="1268.10" y="643.5" width="4.8" height="41.2"/><rect x="1269.10" y="644.6" width="2.8" height="39.0" fill="#fff"/><rect x="1275.90" y="634.0" width="1.2" height="27.8"/><rect x="1274.10" y="643.3" width="4.8" height="5.4"/><rect x="1281.90" y="644.0" width="1.2" height="46.9"/><rect x="1280.10" y="648.3" width="4.8" height="40.2"/><rect x="1287.90" y="652.3" width="1.2" height="41.4"/><rect x="1286.10" y="686.8" width="4.8" height="1.6"/><rect x="1293.90" y="677.2" width="1.2" height="29.6"/><rect x="1292.10" y="687.3" width="4.8" height="14.3"/><rect x="1299.90" y="691.4" width="1.2" height="27.2"/><rect x="1298.10" y="698.5" width="4.8" height="3.1"/><rect x="1299.10" y="699.6" width="2.8" height="0.9" fill="#fff"/><rect x="1306.90" y="661.0" width="1.2" height="41.0"/><rect x="1305.10" y="664.6" width="4.8" height="34.4"/><rect x="1306.10" y="665.7" width="2.8" height="32.2" fill="#fff"/><rect x="1312.90" y="649.2" width="1.2" height="39.3"/><rect x="1311.10" y="664.1" width="4.8" height="8.3"/><rect x="1318.90" y="631.4" width="1.2" height="46.5"/><rect x="1317.10" y="639.3" width="4.8" height="33.1"/><rect x="1318.10" y="640.4" width="2.8" height="30.9" fill="#fff"/><rect x="1324.90" y="620.3" width="1.2" height="28.4"/><rect x="1323.10" y="622.7" width="4.8" height="16.6"/><rect x="1324.10" y="623.8" width="2.8" height="14.4" fill="#fff"/><rect x="1330.90" y="584.1" width="1.2" height="41.6"/><rect x="1329.10" y="594.2" width="4.8" height="28.5"/><rect x="1330.10" y="595.3" width="2.8" height="26.3" fill="#fff"/><rect x="1336.90" y="591.9" width="1.2" height="47.8"/><rect x="1335.10" y="593.8" width="4.8" height="23.7"/><rect x="1342.90" y="593.1" width="1.2" height="72.7"/><rect x="1341.10" y="617.2" width="4.8" height="38.2"/><rect x="1348.90" y="643.3" width="1.2" height="58.3"/><rect x="1347.10" y="655.4" width="4.8" height="30.5"/><rect x="1355.90" y="677.2" width="1.2" height="31.2"/><rect x="1354.10" y="685.4" width="4.8" height="14.3"/><rect x="1361.90" y="647.1" width="1.2" height="59.7"/><rect x="1360.10" y="656.3" width="4.8" height="43.4"/><rect x="1361.10" y="657.4" width="2.8" height="41.2" fill="#fff"/><rect x="1367.90" y="651.1" width="1.2" height="28.4"/><rect x="1366.10" y="655.4" width="4.8" height="18.2"/><rect x="1373.90" y="662.2" width="1.2" height="59.5"/><rect x="1372.10" y="673.1" width="4.8" height="42.4"/><rect x="1379.90" y="702.5" width="1.2" height="19.2"/><rect x="1378.10" y="714.0" width="4.8" height="1.6"/><rect x="1385.90" y="703.2" width="1.2" height="50.2"/><rect x="1384.10" y="714.3" width="4.8" height="34.4"/><rect x="1391.90" y="745.4" width="1.2" height="106.4"/><rect x="1390.10" y="748.2" width="4.8" height="69.4"/><rect x="1397.90" y="791.3" width="1.2" height="49.8"/><rect x="1396.10" y="817.6" width="4.8" height="6.0"/><rect x="1404.90" y="795.2" width="1.2" height="51.8"/><rect x="1403.10" y="811.3" width="4.8" height="12.3"/><rect x="1404.10" y="812.4" width="2.8" height="10.1" fill="#fff"/><rect x="1410.90" y="808.2" width="1.2" height="80.5"/><rect x="1409.10" y="812.1" width="4.8" height="70.6"/><rect x="1416.90" y="847.8" width="1.2" height="41.9"/><rect x="1415.10" y="849.0" width="4.8" height="33.5"/><rect x="1416.10" y="850.1" width="2.8" height="31.3" fill="#fff"/><rect x="1422.90" y="848.0" width="1.2" height="19.8"/><rect x="1421.10" y="849.0" width="4.8" height="10.8"/><rect x="1428.90" y="827.9" width="1.2" height="55.8"/><rect x="1427.10" y="832.1" width="4.8" height="26.5"/><rect x="1428.10" y="833.2" width="2.8" height="24.3" fill="#fff"/><rect x="1434.90" y="831.1" width="1.2" height="20.5"/><rect x="1433.10" y="832.1" width="4.8" height="15.7"/></g>
<path d="M106.8,582.7 L2139.8,582.7 L106.8,1452.4 Z" fill="none" stroke="#000" stroke-width="3.5" stroke-linejoin="round"/>
<path d="M1466.2,818.9 L1513.8,663.4 L1588.3,812.2 L1649.4,593.4 L1717.5,744.1 L1777.9,457.5 L1831.4,575.4" fill="none" stroke="#000" stroke-width="3.6" stroke-dasharray="3.6 7.24" stroke-linejoin="bevel"/>
<path d="M1937.84,151.15 L1831.4,575.4" fill="none" stroke="#000" stroke-width="3.6" stroke-dasharray="3.6 7.31"/>
<rect x="-1.8" y="-1.8" width="3.6" height="3.6" fill="#000" transform="translate(1929.6,156.0) rotate(-30)"/>
<rect x="-1.8" y="-1.8" width="3.6" height="3.6" fill="#000" transform="translate(1920.4,161.6) rotate(-30)"/>
<rect x="-1.8" y="-1.8" width="3.6" height="3.6" fill="#000" transform="translate(1943.6,162.4) rotate(58)"/>
<rect x="-1.8" y="-1.8" width="3.6" height="3.6" fill="#000" transform="translate(1949.4,171.6) rotate(58)"/>
<text x="2227" y="169.4" font-size="22" fill="#30333b" textLength="58.5" lengthAdjust="spacingAndGlyphs">6.500</text>
<text x="2227" y="230.5" font-size="22" fill="#30333b" textLength="58.5" lengthAdjust="spacingAndGlyphs">6.000</text>
<text x="2227" y="311.0" font-size="22" fill="#30333b" textLength="58.5" lengthAdjust="spacingAndGlyphs">5.400</text>
<text x="2227" y="369.7" font-size="22" fill="#30333b" textLength="58.5" lengthAdjust="spacingAndGlyphs">5.000</text>
<text x="2227" y="433.4" font-size="22" fill="#30333b" textLength="58.5" lengthAdjust="spacingAndGlyphs">4.600</text>
<text x="2227" y="502.8" font-size="22" fill="#30333b" textLength="58.5" lengthAdjust="spacingAndGlyphs">4.200</text>
<text x="2227" y="579.2" font-size="22" fill="#30333b" textLength="58.5" lengthAdjust="spacingAndGlyphs">3.800</text>
<text x="2227" y="642.0" font-size="22" fill="#30333b" textLength="58.5" lengthAdjust="spacingAndGlyphs">3.500</text>
<text x="2227" y="710.5" font-size="22" fill="#30333b" textLength="58.5" lengthAdjust="spacingAndGlyphs">3.200</text>
<text x="2227" y="785.6" font-size="22" fill="#30333b" textLength="58.5" lengthAdjust="spacingAndGlyphs">2.900</text>
<text x="2227" y="840.2" font-size="22" fill="#30333b" textLength="58.5" lengthAdjust="spacingAndGlyphs">2.700</text>
<text x="2227" y="898.9" font-size="22" fill="#30333b" textLength="58.5" lengthAdjust="spacingAndGlyphs">2.500</text>
<text x="2227" y="962.6" font-size="22" fill="#30333b" textLength="58.5" lengthAdjust="spacingAndGlyphs">2.300</text>
<text x="2227" y="1032.1" font-size="22" fill="#30333b" textLength="58.5" lengthAdjust="spacingAndGlyphs">2.100</text>
<text x="2227" y="1088.6" font-size="22" fill="#30333b" textLength="58.5" lengthAdjust="spacingAndGlyphs">1.950</text>
<text x="2227" y="1149.7" font-size="22" fill="#30333b" textLength="58.5" lengthAdjust="spacingAndGlyphs">1.800</text>
<text x="2227" y="1216.2" font-size="22" fill="#30333b" textLength="58.5" lengthAdjust="spacingAndGlyphs">1.650</text>
<text x="2227" y="1273.8" font-size="22" fill="#30333b" textLength="58.5" lengthAdjust="spacingAndGlyphs">1.530</text>
<text x="2227" y="1336.2" font-size="22" fill="#30333b" textLength="58.5" lengthAdjust="spacingAndGlyphs">1.410</text>
<text x="2227" y="1392.4" font-size="22" fill="#30333b" textLength="58.5" lengthAdjust="spacingAndGlyphs">1.310</text>
<text x="2227" y="1446.7" font-size="22" fill="#30333b" textLength="58.5" lengthAdjust="spacingAndGlyphs">1.220</text>
<rect x="2211" y="832.6" width="119" height="55.6" rx="3" fill="#000"/>
<text x="2228.6" y="855.6" font-size="22" fill="#fff" textLength="58.5" lengthAdjust="spacingAndGlyphs">2.649</text>
<text x="2228.6" y="881.3" font-size="22" fill="#c8c8c8" textLength="91" lengthAdjust="spacingAndGlyphs">13:40:41</text>
<text x="118.7" y="1522.8" font-size="21.5" fill="#131722" textLength="37" lengthAdjust="spacingAndGlyphs">Mar</text>
<text x="309.9" y="1522.8" font-size="21.5" fill="#131722" textLength="35" lengthAdjust="spacingAndGlyphs">Apr</text>
<text x="490.2" y="1522.8" font-size="21.5" fill="#131722" textLength="41.3" lengthAdjust="spacingAndGlyphs">May</text>
<text x="683.1" y="1522.8" font-size="21.5" fill="#131722" textLength="35.5" lengthAdjust="spacingAndGlyphs">Jun</text>
<text x="870.2" y="1522.8" font-size="21.5" fill="#131722" textLength="28.2" lengthAdjust="spacingAndGlyphs">Jul</text>
<text x="1054.7" y="1522.8" font-size="21.5" fill="#131722" textLength="38.2" lengthAdjust="spacingAndGlyphs">Aug</text>
<text x="1244.6" y="1522.8" font-size="21.5" fill="#131722" textLength="37.9" lengthAdjust="spacingAndGlyphs">Sep</text>
<text x="1429.1" y="1522.8" font-size="21.5" fill="#131722" textLength="36.3" lengthAdjust="spacingAndGlyphs">Oct</text>
<text x="1617.4" y="1522.8" font-size="21.5" fill="#131722" textLength="39.4" lengthAdjust="spacingAndGlyphs">Nov</text>
<text x="1800.8" y="1522.8" font-size="21.5" fill="#131722" textLength="39.4" lengthAdjust="spacingAndGlyphs">Dec</text>
<text x="1982.6" y="1522.8" font-size="22" font-weight="bold" fill="#131722" textLength="56.4" lengthAdjust="spacingAndGlyphs">2026</text>
<clipPath id="cpf"><rect x="2100" y="1490" width="110.3" height="45"/></clipPath>
<text x="2181.6" y="1522.8" font-size="21.5" fill="#131722" clip-path="url(#cpf)">Feb</text>
<g fill="#161616"><path d="M21.6,1578.8 H43.4 V1604.9 H32.3 V1589.3 H21.6 Z"/><circle cx="52.1" cy="1583.7" r="4.9"/><path d="M61.1,1578.8 H75.1 L64.8,1604.9 H52.5 Z"/></g>
<text x="88" y="1604.9" font-size="36.3" font-weight="bold" fill="#161616" textLength="218.2" lengthAdjust="spacingAndGlyphs">TradingView</text>
<clipPath id="cpa"><rect x="18.9" y="1200" width="400" height="335.9"/></clipPath>
<g clip-path="url(#cpa)"><path d="M118.9,1456.2 C116.9,1455.5 110.4,1453.8 107.1,1452.4 C103.9,1450.9 102.2,1449.4 99.6,1447.3 C96.9,1445.2 93.8,1442.7 91.1,1439.7 C88.5,1436.8 85.7,1433.3 83.6,1429.7 C81.4,1426.0 79.6,1421.9 78.1,1417.9 C76.6,1413.8 75.5,1409.5 74.7,1405.2 C74.0,1401.0 73.6,1395.0 73.5,1392.6 C73.3,1390.3 73.7,1392.9 73.9,1391.2 C74.1,1389.6 74.3,1387.0 74.7,1382.8 C75.1,1378.6 75.8,1370.8 76.4,1366.0 C77.1,1361.2 78.2,1357.7 78.7,1354.2 C79.1,1350.7 79.2,1348.6 79.2,1344.9 C79.2,1341.3 78.7,1335.8 78.7,1332.3 C78.7,1328.8 78.8,1326.7 79.2,1323.9 C79.6,1321.1 80.1,1318.4 81.2,1315.5 C82.3,1312.5 83.6,1309.5 85.7,1306.2 C87.7,1303.0 90.4,1299.3 93.7,1296.1 C97.0,1293.0 101.2,1290.0 105.4,1287.3 C109.7,1284.6 114.4,1282.1 118.9,1280.1 C123.4,1278.2 128.2,1276.6 132.4,1275.5 C136.6,1274.5 140.2,1274.0 144.2,1273.8 C148.1,1273.7 151.7,1273.7 155.9,1274.4 C160.1,1275.1 165.1,1276.3 169.4,1278.0 C173.7,1279.8 178.0,1282.0 182.0,1284.8 C186.1,1287.5 190.3,1290.7 193.8,1294.5 C197.3,1298.2 200.6,1302.9 203.1,1307.1 C205.5,1311.3 207.2,1315.5 208.5,1319.7 C209.8,1323.9 210.4,1328.1 210.8,1332.3 C211.2,1336.5 211.1,1341.0 210.8,1344.9 C210.5,1348.9 209.6,1353.3 209.1,1355.9 C208.6,1358.5 207.9,1359.7 207.7,1360.5" fill="none" stroke="#000" stroke-width="4.70" stroke-linecap="round" stroke-linejoin="round"/><path d="M118.9,1456.2 C121.0,1456.3 127.3,1457.3 131.5,1457.0 C135.7,1456.7 139.9,1455.8 144.2,1454.5 C148.4,1453.1 152.6,1451.3 156.8,1449.0 C161.0,1446.7 165.5,1443.8 169.4,1440.6 C173.3,1437.4 177.1,1433.2 180.3,1429.7 C183.6,1426.1 186.4,1422.6 188.8,1419.6 C191.1,1416.5 193.7,1412.5 194.6,1411.1" fill="none" stroke="#000" stroke-width="4.70" stroke-linecap="round" stroke-linejoin="round"/><path d="M197.2,1338.6 C197.8,1337.6 200.7,1342.8 202.2,1345.4 C203.7,1348.0 205.2,1351.7 206.3,1354.2 C207.4,1356.7 208.6,1358.3 208.8,1360.5 C208.9,1362.7 207.7,1364.9 207.1,1367.2 C206.5,1369.6 206.5,1373.2 205.4,1374.4 C204.4,1375.6 201.5,1376.1 200.7,1374.4 C199.9,1372.7 200.7,1368.1 200.4,1364.3 C200.0,1360.5 199.2,1356.0 198.7,1351.7 C198.2,1347.4 196.6,1339.7 197.2,1338.6 Z" fill="#000"/><path d="M205.2,1361.8 C205.0,1363.2 204.5,1367.1 204.1,1370.2 C203.7,1373.3 203.1,1378.4 202.6,1380.3 C202.2,1382.2 202.0,1379.3 201.4,1381.7 C200.7,1384.0 199.6,1390.4 198.9,1394.3 C198.1,1398.2 197.3,1401.7 196.7,1405.2 C196.2,1408.8 195.6,1411.1 195.3,1415.3 C195.0,1419.6 195.2,1425.7 195.1,1430.5 C194.9,1435.3 194.6,1440.3 194.4,1444.0 C194.2,1447.6 193.9,1451.0 193.8,1452.4" fill="none" stroke="#000" stroke-width="5.15" stroke-linecap="round" stroke-linejoin="round"/><path d="M209.0,1360.9 C210.0,1360.7 213.4,1359.4 215.3,1359.4 C217.2,1359.4 219.1,1359.9 220.3,1361.1 C221.5,1362.3 222.0,1364.0 222.2,1366.4 C222.5,1368.8 221.9,1372.7 221.6,1375.2 C221.3,1377.8 221.0,1379.1 220.3,1381.7 C219.6,1384.3 218.5,1388.3 217.2,1390.9 C215.9,1393.5 214.3,1395.4 212.5,1397.3 C210.7,1399.1 208.7,1400.7 206.4,1402.0 C204.2,1403.4 200.1,1404.7 198.9,1405.2" fill="none" stroke="#000" stroke-width="4.93" stroke-linecap="round" stroke-linejoin="round"/><path d="M215.9,1368.1 C215.0,1369.3 212.1,1372.5 210.6,1375.2 C209.1,1378.0 208.0,1381.1 206.8,1384.5 C205.7,1387.9 204.0,1394.0 203.5,1395.9" fill="none" stroke="#000" stroke-width="2.46" stroke-linecap="round" stroke-linejoin="round"/><path d="M206.8,1384.5 C206.7,1385.6 206.4,1389.9 206.0,1391.2 C205.7,1392.6 204.1,1392.2 204.7,1392.6 C205.4,1393.0 208.2,1394.1 209.8,1393.6 C211.4,1393.2 213.7,1390.7 214.4,1390.1" fill="none" stroke="#000" stroke-width="2.24" stroke-linecap="round" stroke-linejoin="round"/><path d="M83.6,1341.2 C83.6,1339.7 84.1,1336.2 85.1,1334.4 C86.1,1332.6 87.3,1331.3 89.5,1330.5 C91.6,1329.6 94.4,1329.3 97.9,1329.4 C101.4,1329.4 107.4,1330.1 110.5,1330.6 C113.5,1331.1 115.1,1331.5 116.2,1332.3 C117.3,1333.2 117.3,1334.6 117.2,1335.7 C117.1,1336.8 117.4,1338.6 115.7,1339.1 C114.0,1339.6 110.4,1338.7 107.1,1338.7 C103.9,1338.7 99.2,1338.7 96.2,1339.1 C93.2,1339.4 90.9,1340.1 89.0,1340.7 C87.2,1341.4 86.0,1342.9 85.1,1342.9 C84.2,1343.0 83.6,1342.6 83.6,1341.2 Z" fill="#000"/><path d="M136.2,1335.3 C136.2,1334.0 136.1,1333.1 138.1,1332.3 C140.1,1331.6 143.8,1331.1 148.4,1330.6 C152.9,1330.1 161.2,1329.2 165.2,1329.4 C169.2,1329.5 170.2,1330.3 172.3,1331.5 C174.5,1332.7 176.5,1334.6 178.2,1336.5 C180.0,1338.5 181.8,1341.0 183.0,1343.3 C184.3,1345.5 185.6,1348.7 185.9,1350.0 C186.1,1351.3 185.9,1351.7 184.5,1351.0 C183.2,1350.3 180.3,1347.5 177.8,1346.0 C175.3,1344.4 172.9,1342.8 169.4,1341.7 C165.9,1340.7 161.0,1339.9 156.8,1339.6 C152.6,1339.3 147.3,1339.9 144.2,1339.9 C141.0,1339.9 139.2,1340.5 137.8,1339.7 C136.5,1339.0 136.1,1336.5 136.2,1335.3 Z" fill="#000"/><path d="M86.1,1353.1 C86.6,1352.2 88.9,1349.2 91.0,1348.1 C93.1,1346.9 96.0,1346.4 98.7,1346.2 C101.4,1346.0 104.7,1346.4 107.1,1347.0 C109.5,1347.7 112.5,1349.2 113.2,1350.0 C113.9,1350.8 113.1,1351.7 111.5,1352.0 C109.9,1352.3 106.5,1351.7 103.8,1351.7 C101.1,1351.7 97.9,1351.7 95.3,1352.0 C92.7,1352.4 89.7,1353.5 88.2,1353.7 C86.6,1353.9 85.6,1354.0 86.1,1353.1 Z" fill="#000"/><path d="M93.2,1357.6 C93.9,1357.8 95.0,1359.0 97.0,1359.3 C99.1,1359.5 104.0,1359.1 105.4,1359.1" fill="none" stroke="#000" stroke-width="2.13" stroke-linecap="round" stroke-linejoin="round"/><path d="M142.9,1350.6 C143.6,1349.8 146.0,1348.4 148.4,1347.6 C150.7,1346.9 153.8,1346.2 156.8,1346.3 C159.7,1346.3 163.4,1347.1 166.0,1348.0 C168.7,1348.9 171.2,1350.6 172.8,1351.7 C174.3,1352.7 176.0,1354.0 175.5,1354.4 C174.9,1354.8 171.8,1354.2 169.4,1354.0 C167.0,1353.7 163.8,1353.0 161.0,1352.7 C158.2,1352.3 155.4,1351.9 152.6,1351.8 C149.8,1351.8 145.8,1352.5 144.2,1352.3 C142.5,1352.1 142.2,1351.4 142.9,1350.6 Z" fill="#000"/><path d="M149.6,1358.0 C150.5,1358.3 152.9,1359.7 155.1,1360.1 C157.3,1360.4 160.4,1360.4 162.7,1360.1 C165.0,1359.8 167.9,1358.6 169.0,1358.2" fill="none" stroke="#000" stroke-width="2.24" stroke-linecap="round" stroke-linejoin="round"/><path d="M176.6,1357.6 C177.2,1357.3 179.1,1356.0 180.3,1355.9 C181.5,1355.8 183.1,1356.9 183.7,1357.1" fill="none" stroke="#000" stroke-width="1.23" stroke-linecap="round" stroke-linejoin="round"/><path d="M119.3,1347.5 C119.3,1348.5 119.6,1351.4 119.1,1353.4 C118.6,1355.3 116.8,1358.3 116.4,1359.3" fill="none" stroke="#000" stroke-width="2.13" stroke-linecap="round" stroke-linejoin="round"/><ellipse cx="105.2" cy="1373.7" rx="2.9" ry="5.0" fill="#000"/><path d="M108.0,1378.2 C108.9,1378.0 112.0,1376.9 113.9,1377.3 C115.7,1377.8 116.9,1380.2 118.9,1380.7 C120.9,1381.2 123.1,1380.9 125.6,1380.5 C128.2,1380.0 131.3,1378.3 134.1,1377.9 C136.9,1377.6 140.4,1378.6 142.5,1378.3 C144.6,1378.0 145.8,1377.3 146.7,1376.3 C147.6,1375.2 148.0,1373.3 148.0,1371.9 C148.0,1370.5 147.4,1368.9 146.7,1367.8 C146.0,1366.8 144.2,1365.9 143.7,1365.6" fill="none" stroke="#000" stroke-width="3.81" stroke-linecap="round" stroke-linejoin="round"/><path d="M98.3,1375.2 C97.2,1375.9 93.9,1377.9 92.0,1379.4 C90.1,1381.0 88.1,1382.8 86.9,1384.5 C85.7,1386.2 85.1,1388.2 84.8,1389.7 C84.5,1391.3 85.1,1393.0 85.2,1393.8 C85.3,1394.5 85.2,1393.6 85.4,1394.3 C85.6,1395.0 86.3,1397.5 86.5,1398.1" fill="none" stroke="#000" stroke-width="1.90" stroke-linecap="round" stroke-linejoin="round"/><path d="M152.6,1371.5 C154.0,1372.5 158.3,1375.7 161.0,1377.8 C163.6,1379.8 166.6,1381.7 168.6,1383.7 C170.5,1385.6 172.0,1387.8 172.8,1389.5 C173.6,1391.3 173.5,1392.5 173.4,1394.3 C173.2,1396.1 172.7,1398.4 172.1,1400.2 C171.5,1402.0 170.2,1404.1 169.8,1404.8" fill="none" stroke="#000" stroke-width="2.24" stroke-linecap="round" stroke-linejoin="round"/><path d="M92.8,1396.0 C93.1,1394.5 97.4,1393.6 100.4,1392.6 C103.3,1391.6 106.0,1390.6 110.5,1389.9 C115.0,1389.3 122.4,1388.8 127.3,1388.8 C132.2,1388.8 135.7,1389.2 139.9,1389.9 C144.2,1390.6 149.2,1392.1 152.6,1393.1 C155.9,1394.2 158.2,1395.7 160.1,1396.2 C162.1,1396.6 163.3,1395.7 164.2,1396.0 C165.1,1396.3 165.9,1397.3 165.5,1398.1 C165.2,1398.9 164.4,1400.5 162.2,1400.5 C160.1,1400.5 156.3,1399.1 152.6,1398.2 C148.9,1397.3 144.2,1395.7 139.9,1395.0 C135.7,1394.3 132.0,1394.0 127.3,1394.0 C122.7,1394.0 116.0,1394.4 112.2,1395.0 C108.3,1395.5 105.8,1396.3 104.2,1397.2 C102.6,1398.0 102.8,1399.0 102.8,1400.2 C102.7,1401.4 104.8,1404.3 104.1,1404.6 C103.4,1404.8 100.4,1403.0 98.5,1401.5 C96.7,1400.1 92.5,1397.5 92.8,1396.0 Z" fill="#000"/><path d="M99.6,1401.0 C100.5,1401.7 102.9,1404.1 105.4,1405.2 C108.0,1406.4 111.1,1407.2 114.7,1407.8 C118.3,1408.3 123.1,1408.7 127.3,1408.6 C131.5,1408.5 136.0,1408.1 139.9,1407.3 C143.9,1406.6 147.7,1405.2 150.9,1404.0 C154.1,1402.8 157.1,1401.2 159.3,1400.2 C161.5,1399.2 163.5,1398.2 164.4,1397.8" fill="none" stroke="#000" stroke-width="3.81" stroke-linecap="round" stroke-linejoin="round"/><path d="M103.3,1415.8 C104.5,1416.4 107.9,1418.6 110.5,1419.6 C113.1,1420.5 116.1,1421.3 118.9,1421.7 C121.7,1422.0 124.5,1422.0 127.3,1421.7 C130.1,1421.3 133.1,1420.5 135.7,1419.6 C138.4,1418.6 142.0,1416.7 143.3,1416.2" fill="none" stroke="#000" stroke-width="2.91" stroke-linecap="round" stroke-linejoin="round"/><path d="M85.2,1433.9 C85.3,1436.1 85.9,1442.3 85.8,1447.3 C85.6,1452.4 85.0,1459.2 84.4,1464.2 C83.8,1469.1 82.8,1472.6 82.0,1476.8 C81.3,1481.0 80.3,1485.6 79.9,1489.4 C79.4,1493.2 79.2,1496.3 79.4,1499.5 C79.6,1502.7 79.9,1505.0 81.0,1508.8 C82.1,1512.5 84.1,1517.1 85.9,1521.8 C87.7,1526.4 91.0,1534.1 92.0,1536.6" fill="none" stroke="#000" stroke-width="4.82" stroke-linecap="round" stroke-linejoin="round"/><path d="M193.8,1452.4 C193.5,1453.8 193.7,1457.3 192.1,1460.8 C190.6,1464.3 187.6,1468.6 184.5,1473.4 C181.5,1478.2 176.8,1484.2 173.6,1489.4 C170.4,1494.6 168.6,1498.6 165.2,1504.5 C161.8,1510.5 156.6,1519.9 153.1,1525.3 C149.6,1530.6 145.8,1534.7 144.4,1536.6" fill="none" stroke="#000" stroke-width="4.48" stroke-linecap="round" stroke-linejoin="round"/><path d="M198.0,1453.6 C198.7,1454.3 201.3,1455.4 202.2,1457.8 C203.1,1460.3 203.5,1464.5 203.6,1468.4 C203.6,1472.2 203.0,1476.1 202.4,1481.0 C201.7,1485.9 200.6,1492.8 199.7,1497.8 C198.8,1502.9 197.2,1509.0 196.7,1511.3" fill="none" stroke="#000" stroke-width="2.91" stroke-linecap="round" stroke-linejoin="round"/><path d="M203.6,1469.2 C204.3,1470.2 206.1,1473.3 208.1,1475.1 C210.1,1476.9 212.6,1478.6 215.7,1480.1 C218.8,1481.7 222.6,1482.4 226.6,1484.4 C230.7,1486.3 235.4,1488.9 240.0,1491.9 C244.6,1495.0 249.0,1499.1 254.3,1502.6 C259.6,1506.1 266.5,1509.3 271.8,1513.1 C277.0,1516.8 282.1,1521.3 285.7,1525.3 C289.4,1529.2 292.3,1534.7 293.6,1536.6" fill="none" stroke="#000" stroke-width="4.48" stroke-linecap="round" stroke-linejoin="round"/><path d="M209.4,1478.9 C210.0,1480.6 212.5,1485.5 213.3,1489.4 C214.1,1493.3 214.2,1496.6 214.2,1502.0 C214.2,1507.4 213.9,1516.5 213.3,1521.8 C212.7,1527.1 211.1,1532.0 210.7,1534.0" fill="none" stroke="#000" stroke-width="3.70" stroke-linecap="round" stroke-linejoin="round"/><path d="M164.5,1536.6 C166.8,1533.1 173.9,1516.8 178.4,1515.7 C182.9,1514.5 186.8,1526.7 191.5,1529.6 C196.2,1532.5 203.9,1532.5 206.3,1533.1" fill="none" stroke="#000" stroke-width="4.03" stroke-linecap="round" stroke-linejoin="round"/><path d="M21.3,1486.0 C25.3,1484.5 37.2,1480.0 44.9,1477.3 C52.6,1474.5 62.4,1471.9 67.6,1469.4 C72.8,1467.0 73.6,1465.2 76.3,1462.4 C79.1,1459.7 82.9,1454.4 84.2,1452.8" fill="none" stroke="#000" stroke-width="3.81" stroke-linecap="round" stroke-linejoin="round"/><path d="M82.9,1455.1 C80.4,1458.5 72.8,1467.6 67.6,1475.5 C62.4,1483.4 54.5,1498.1 51.9,1502.6" fill="none" stroke="#000" stroke-width="3.58" stroke-linecap="round" stroke-linejoin="round"/><path d="M81.6,1473.8 C79.2,1478.1 71.9,1491.7 67.6,1499.4 C63.3,1507.1 59.2,1515.4 55.7,1520.0 C52.3,1524.6 50.0,1525.7 47.0,1527.0 C44.0,1528.3 39.4,1527.7 37.9,1527.9" fill="none" stroke="#000" stroke-width="4.03" stroke-linecap="round" stroke-linejoin="round"/><path d="M68.8,1517.4 C68.6,1519.0 67.2,1523.8 67.6,1527.0 C68.0,1530.2 70.8,1535.0 71.4,1536.6" fill="none" stroke="#000" stroke-width="3.36" stroke-linecap="round" stroke-linejoin="round"/></g>
<text font-size="100" fill="#000" stroke="#000" stroke-width="1.7" transform="translate(271.10,1326.00) scale(0.6788,0.6925) translate(-8.00,72.50)">&#64;</text><text font-size="100" fill="#000" stroke="#000" stroke-width="0" transform="translate(335.20,1346.30) scale(0.6353,0.7145) translate(-4.50,54.00)">a</text><text font-size="100" fill="#000" stroke="#000" stroke-width="0" transform="translate(540.10,1346.30) scale(0.6392,0.7145) translate(-4.50,54.00)">a</text><text font-size="100" fill="#000" stroke="#000" stroke-width="0" transform="translate(634.50,1346.00) scale(0.6713,0.7284) translate(-3.00,53.50)">s</text><path d="M382.9,1323.5 V1384.6" fill="none" stroke="#000" stroke-width="5.6"/><path d="M401.9,1347 V1384.6" fill="none" stroke="#000" stroke-width="5.6"/><circle cx="401.9" cy="1332.4" r="4.1" fill="#000"/><rect x="412" y="1390.5" width="41.2" height="4.5" fill="#000"/><path d="M486.22,1354.85 A16.85,16.85 0 1 0 486.22,1376.95" fill="none" stroke="#000" stroke-width="5.6"/><path d="M499.9,1323.5 V1384.6 M499.9,1366 C499.9,1354 505.5,1348.7 513.6,1348.7 C522,1348.7 526.8,1354 526.8,1365 V1384.6" fill="none" stroke="#000" stroke-width="5.6"/><path d="M587.5,1347 V1384.6 M587.5,1368 C587.5,1355 594,1348.6 605.2,1349.4" fill="none" stroke="#000" stroke-width="5.6"/><path d="M617.2,1336 V1373.5 C617.2,1380.5 620.5,1382.3 625,1382.3 L630.8,1381.6" fill="none" stroke="#000" stroke-width="5.6"/><rect x="606.2" y="1346.9" width="24.5" height="4.8" fill="#000"/><path fill-rule="evenodd" fill="#000" d="M345.3,1417.1 L366.2,1417.1 L420,1489.4 L398.5,1489.4 Z M354.3,1421.4 L362.8,1421.4 L411,1485.4 L401.9,1485.4 Z"/><path fill="#000" d="M410.4,1418.6 L416.6,1418.6 L390.4,1448.8 L386.3,1444.4 Z M371.9,1458.2 L376.2,1461.8 L349.8,1489.7 L343.4,1489.7 Z"/><path fill="none" stroke="#000" stroke-width="4.8" d="M494,1421.2 C510,1419.8 545,1419.8 561.5,1421.2 C569.5,1421.8 573,1425.5 573.3,1433 C574.2,1445 574.2,1462 573.3,1474 C573,1481.5 569.5,1485 561.5,1485.6 C545,1487 510,1487 494,1485.6 C486,1485 482.3,1481.5 482,1474 C481.1,1462 481.1,1445 482,1433 C482.3,1425.5 486,1421.8 494,1421.2 Z"/><path fill="none" stroke="#000" stroke-width="4" stroke-linejoin="miter" d="M518.3,1440.8 L540,1453.2 L518.3,1466.6 Z"/>
</svg>
</body></html>
